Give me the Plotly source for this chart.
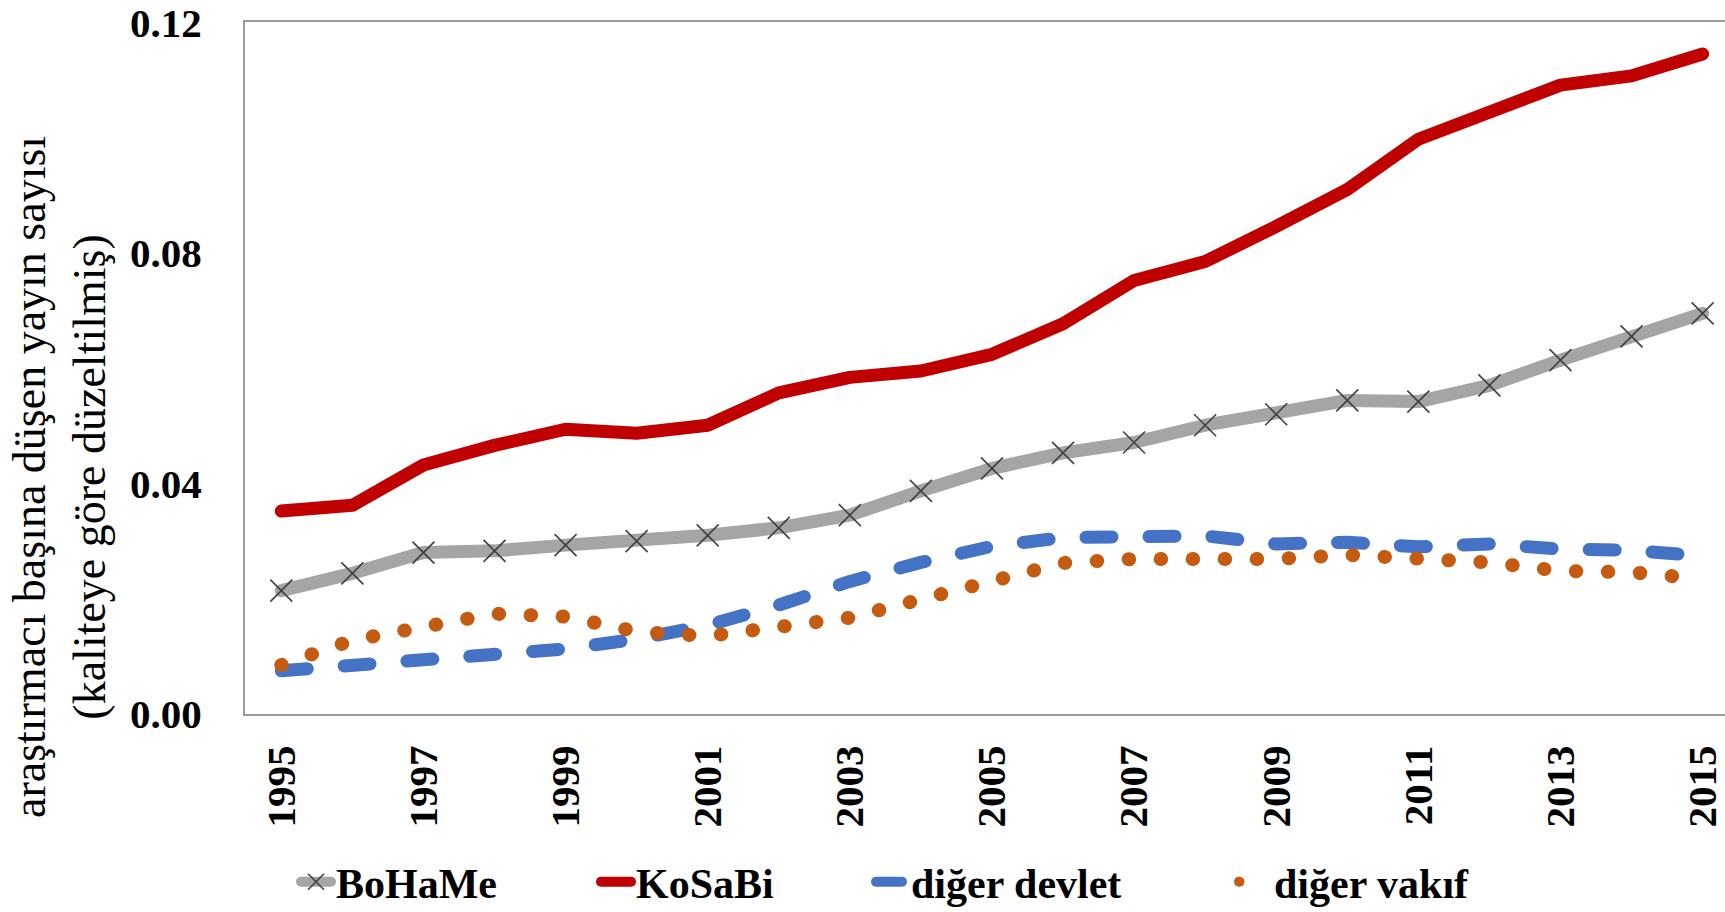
import plotly.graph_objects as go

years = list(range(1995, 2016))
bohame = [0.0214, 0.0244, 0.0280, 0.0283, 0.0293, 0.0300, 0.0310, 0.0323, 0.0345, 0.0387, 0.0426,
          0.0453, 0.0471, 0.0501, 0.0520, 0.0544, 0.0542, 0.0570, 0.0614, 0.0655, 0.0695]
kosabi = [0.0352, 0.0362, 0.0432, 0.0466, 0.0494, 0.0487, 0.0501, 0.0557, 0.0584, 0.0595, 0.0624,
          0.0677, 0.0752, 0.0785, 0.0846, 0.0910, 0.0997, 0.1044, 0.1091, 0.1107, 0.1145]
devlet = [0.0075, 0.0085, 0.0095, 0.0103, 0.0113, 0.0130, 0.0154, 0.0189, 0.0230, 0.0263, 0.0291,
          0.0306, 0.0307, 0.0309, 0.0295, 0.0298, 0.0290, 0.0295, 0.0286, 0.0284, 0.0274]
vakif = [0.0085, 0.0128, 0.0151, 0.0174, 0.0169, 0.0143, 0.0135, 0.0148, 0.0167, 0.0199, 0.0229,
         0.0262, 0.0269, 0.0269, 0.0269, 0.0276, 0.0271, 0.0263, 0.0248, 0.0246, 0.0234]

names = ["BoHaMe", "KoSaBi", "diğer devlet", "diğer vakıf"]
ytitle = "araştırmacı başına düşen yayın sayısı<br>(kaliteye göre düzeltilmiş)"
yticks = [0.0, 0.04, 0.08, 0.12]
yticktext = ["0.00", "0.04", "0.08", "0.12"]

FONT = "Liberation Serif"
W, H = 1725, 912
L, R, T, B = 245, 0, 22, 198
pw = W - L - R
ph = H - T - B

def px_x(p):
    return (p - L) / pw

def px_y(p):
    return (H - B - p) / ph

fig = go.Figure()
fig.add_trace(go.Scatter(
    x=years, y=bohame, name=names[0], mode="lines+markers", legend="legend",
    line=dict(color="#A5A5A5", width=13),
    marker=dict(symbol="x-thin", size=22, color="#404040", line=dict(color="#404040", width=1.6)),
))
fig.add_trace(go.Scatter(
    x=years, y=kosabi, name=names[1], mode="lines", legend="legend2",
    line=dict(color="#C00000", width=13),
))
fig.add_trace(go.Scatter(
    x=years, y=devlet, name=names[2], mode="lines", legend="legend3",
    line=dict(color="#4472C4", width=13, dash="26px,37px"),
))
fig.add_trace(go.Scatter(
    x=years, y=vakif, name=names[3], mode="lines", legend="legend4",
    line=dict(color="#C55A11", width=14, dash="0.5px,31.5px"),
))

text_starts = [338, 638, 913, 1276]
leg_y = px_y(882)
legs = {}
for i, ts in enumerate(text_starts):
    key = "legend" if i == 0 else f"legend{i+1}"
    legs[key] = dict(
        x=px_x(ts - 42), y=leg_y, xanchor="left", yanchor="middle",
        orientation="h", bgcolor="rgba(0,0,0,0)", borderwidth=0,
        font=dict(family=FONT, size=42, color="black", weight="bold"),
    )

fig.add_annotation(
    text=ytitle, textangle=-90, xref="paper", yref="paper",
    x=px_x(59), y=px_y(477), xanchor="center", yanchor="middle",
    showarrow=False, align="center",
    font=dict(family=FONT, size=46, color="black"),
)

fig.update_layout(
    width=W, height=H,
    margin=dict(l=L, r=R, t=T, b=B, pad=0, autoexpand=False),
    paper_bgcolor="white", plot_bgcolor="white",
    showlegend=True,
    **legs,
    xaxis=dict(
        range=[1994.489, 2015.315], tickmode="linear", tick0=1995, dtick=2,
        tickangle=-90, showgrid=False, zeroline=False,
        showline=True, linecolor="#999999", linewidth=2, mirror=True,
        ticks="", ticklabelstandoff=13, ticklabeloverflow="allow",
        tickfont=dict(family=FONT, size=41, color="black", weight="bold"),
    ),
    yaxis=dict(
        range=[0, 0.12005], tickmode="array", tickvals=yticks, ticktext=yticktext,
        showgrid=False, zeroline=False,
        showline=True, linecolor="#999999", linewidth=2, mirror=False,
        ticks="", ticklabelstandoff=33, ticklabeloverflow="allow",
        tickfont=dict(family=FONT, size=41, color="black", weight="bold"),
    ),
)

post = ("var s=document.createElement('style');"
        "s.textContent='body{margin:0 !important;padding:0 !important;overflow:hidden;}"
        ".js-line{stroke-linecap:round !important;stroke-linejoin:round !important;}';"
        "document.head.appendChild(s);")
fig.write_html("out.html", post_script=post, config={"displayModeBar": False})
